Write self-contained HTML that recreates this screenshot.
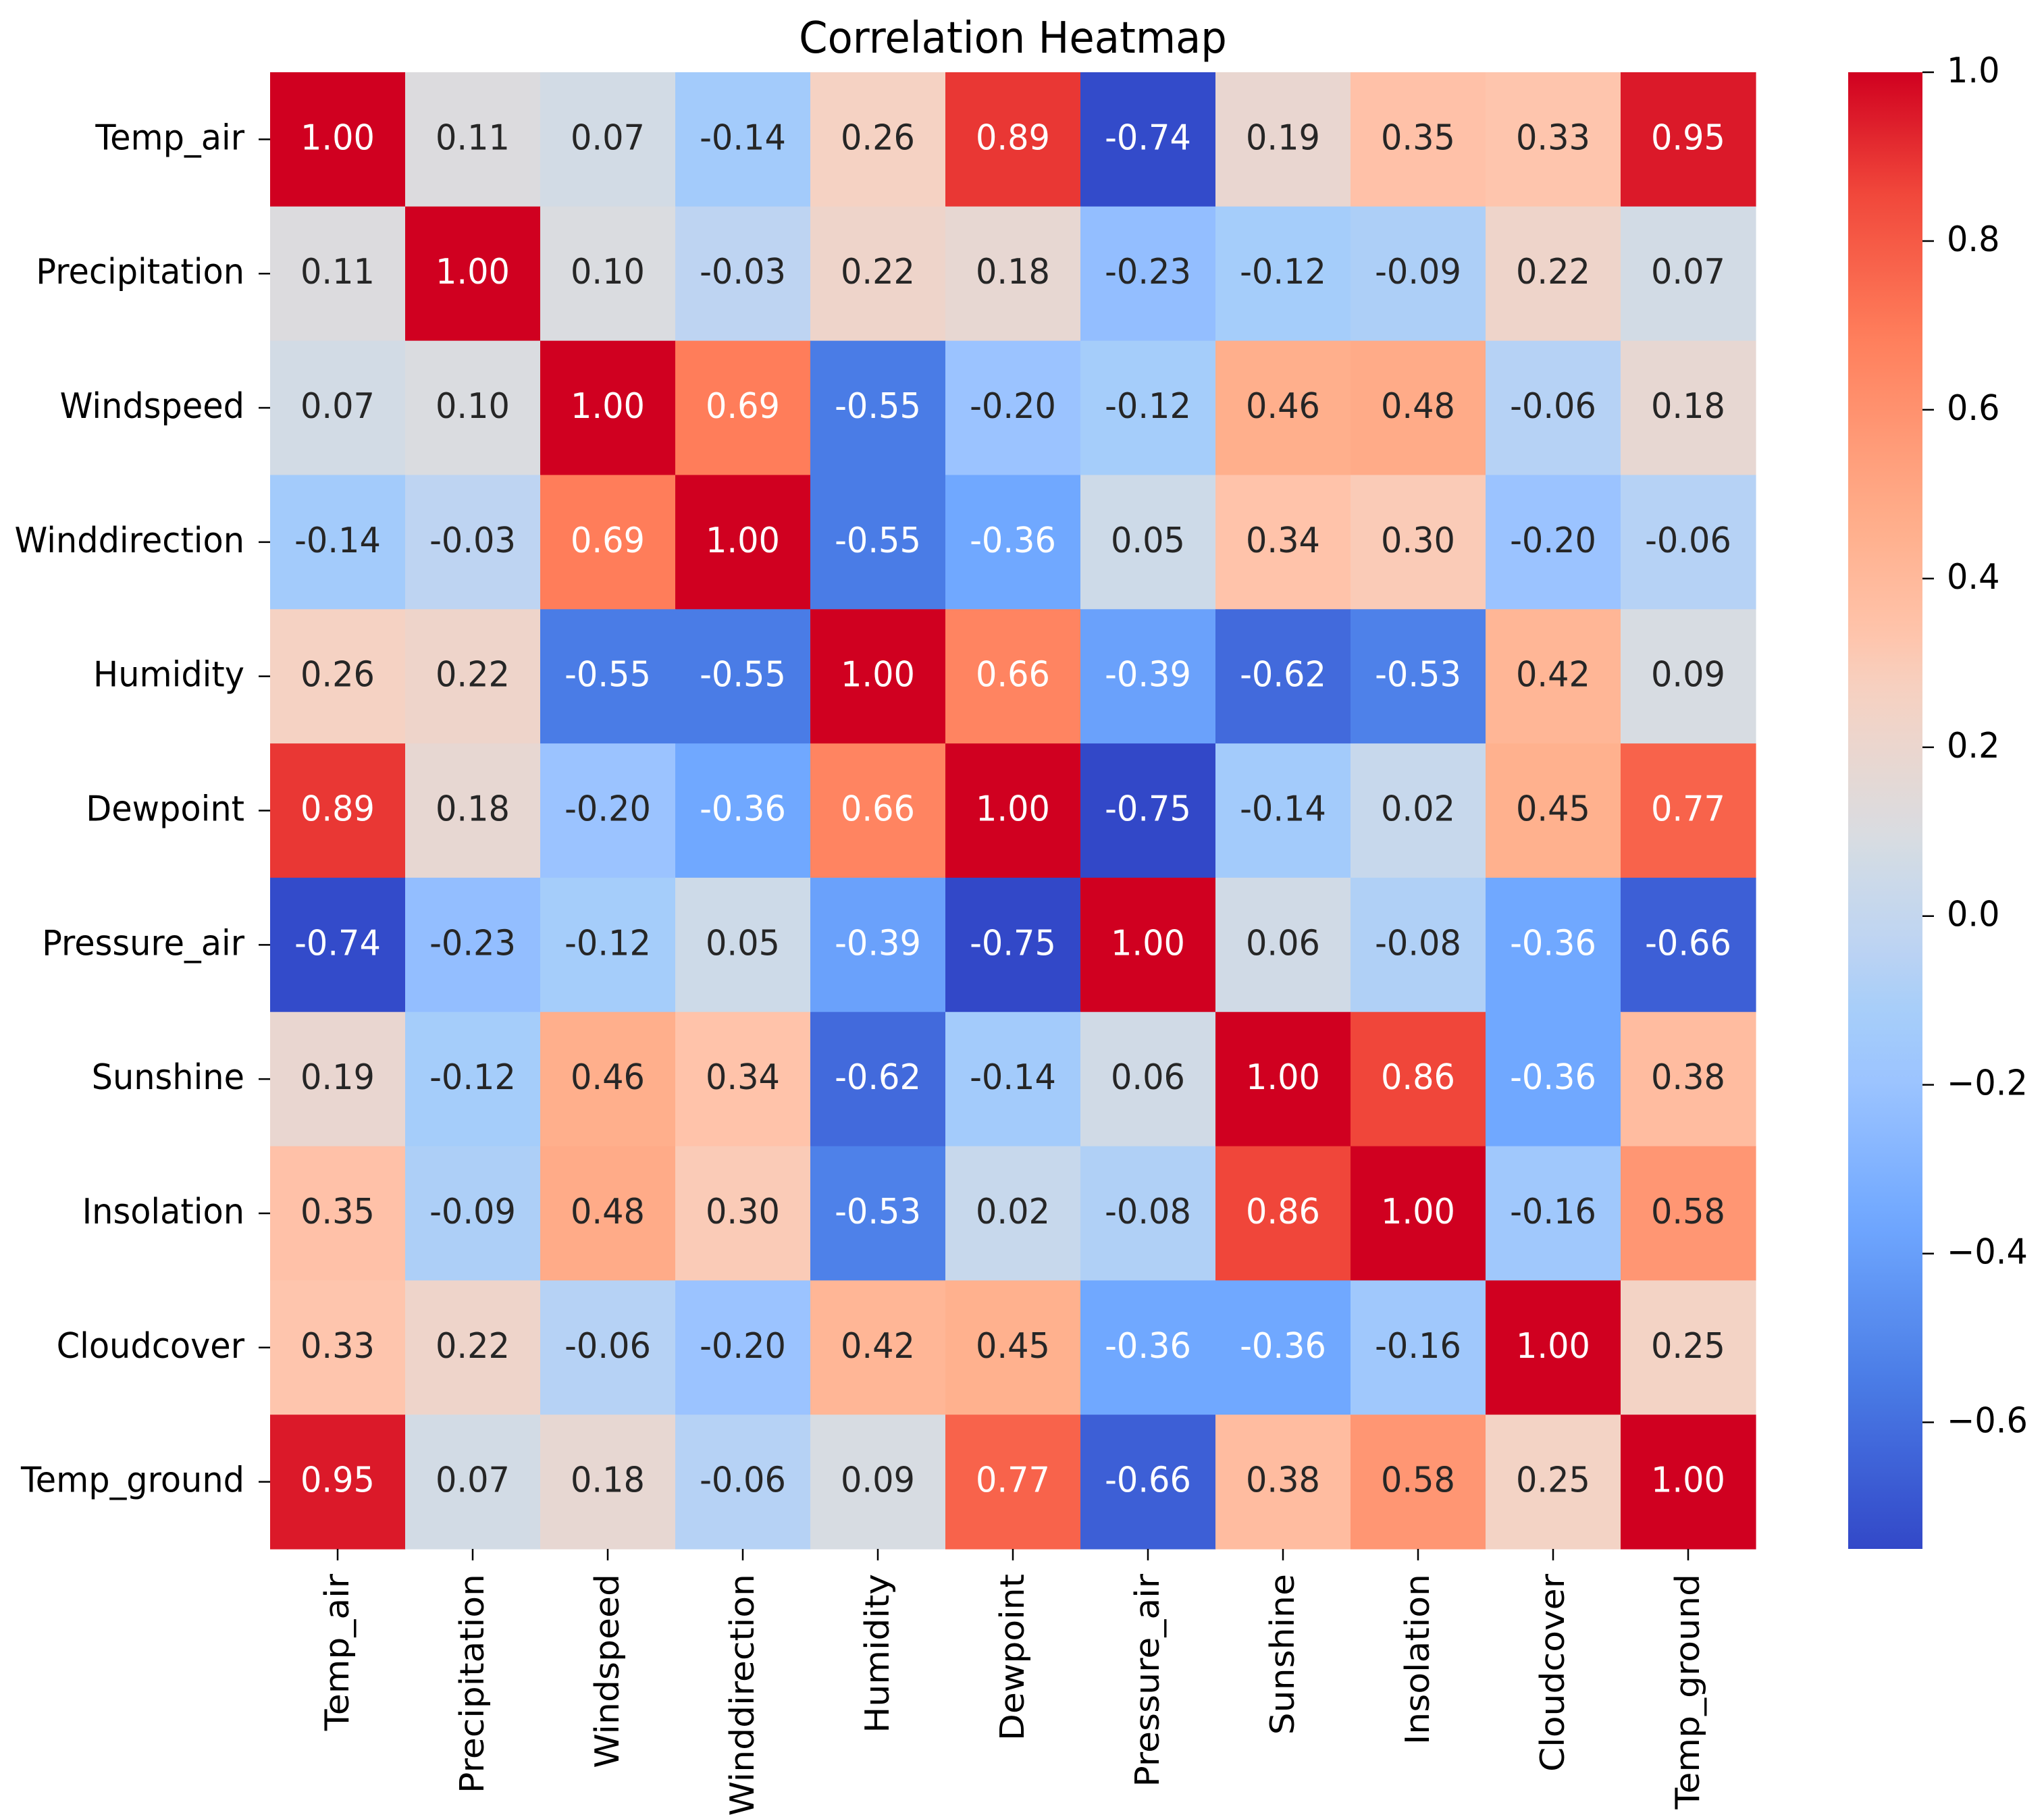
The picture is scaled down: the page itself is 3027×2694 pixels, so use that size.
<!DOCTYPE html>
<html><head><meta charset="utf-8"><style>
html,body{margin:0;padding:0;background:#fff;}
svg{display:block;font-family:"DejaVu Sans","Liberation Sans",sans-serif;}
</style></head><body>
<svg id="chart" width="3027" height="2694" viewBox="0 0 3027 2694" xmlns="http://www.w3.org/2000/svg">
<rect width="3027" height="2694" fill="#fff"/>
<g id="title-g"></g>
<g id="cells"></g>
<g id="yaxis"></g>
<g id="xaxis"></g>
<defs><linearGradient id="cbgrad" x1="0" y1="1" x2="0" y2="0"></linearGradient></defs>
<g id="cbar"></g>
</svg>
<script>
const labels = ["Temp_air","Precipitation","Windspeed","Winddirection","Humidity","Dewpoint","Pressure_air","Sunshine","Insolation","Cloudcover","Temp_ground"];
const row0 = [1.00,0.11,0.07,-0.14,0.26,0.89,-0.74,0.19,0.35,0.33,0.95];
const row1 = [0.11,1.00,0.10,-0.03,0.22,0.18,-0.23,-0.12,-0.09,0.22,0.07];
const row2 = [0.07,0.10,1.00,0.69,-0.55,-0.20,-0.12,0.46,0.48,-0.06,0.18];
const row3 = [-0.14,-0.03,0.69,1.00,-0.55,-0.36,0.05,0.34,0.30,-0.20,-0.06];
const row4 = [0.26,0.22,-0.55,-0.55,1.00,0.66,-0.39,-0.62,-0.53,0.42,0.09];
const row5 = [0.89,0.18,-0.20,-0.36,0.66,1.00,-0.75,-0.14,0.02,0.45,0.77];
const row6 = [-0.74,-0.23,-0.12,0.05,-0.39,-0.75,1.00,0.06,-0.08,-0.36,-0.66];
const row7 = [0.19,-0.12,0.46,0.34,-0.62,-0.14,0.06,1.00,0.86,-0.36,0.38];
const row8 = [0.35,-0.09,0.48,0.30,-0.53,0.02,-0.08,0.86,1.00,-0.16,0.58];
const row9 = [0.33,0.22,-0.06,-0.20,0.42,0.45,-0.36,-0.36,-0.16,1.00,0.25];
const row10 = [0.95,0.07,0.18,-0.06,0.09,0.77,-0.66,0.38,0.58,0.25,1.00];
const cbTicks = [1.0,0.8,0.6,0.4,0.2,0.0,-0.2,-0.4,-0.6];
const cbTickLabels = ["1.0","0.8","0.6","0.4","0.2","0.0","\u22120.2","\u22120.4","\u22120.6"];
const vmin = -0.75, vmax = 1.0;
const matrix = [row0,row1,row2,row3,row4,row5,row6,row7,row8,row9,row10];

const NS="http://www.w3.org/2000/svg";
const L=400,R=2600,T=107,B=2294;
const n=labels.length, cw=(R-L)/n, ch=(B-T)/n;
const SX=0.95, FS=52;
const xS=i=>L+i*cw, yS=i=>T+i*ch;
const cbL=2737,cbR=2847;
const cbY=v=>B-(v-vmin)/(vmax-vmin)*(B-T);

const stops=[[0,50,72,200],[0.114,74,124,230],[0.223,112,168,255],[0.314,155,195,255],[0.36,165,205,250],[0.411,190,212,242],[0.457,205,218,232],[0.486,218,220,224],[0.577,245,210,195],[0.623,255,195,170],[0.691,255,175,140],[0.76,255,150,115],[0.823,255,125,90],[0.92,240,70,58],[1,208,0,32]];
function cmap(v){
  let t=(v-vmin)/(vmax-vmin); t=Math.max(0,Math.min(1,t));
  for(let i=0;i<stops.length-1;i++){
    const a=stops[i],b=stops[i+1];
    if(t<=b[0]){const f=(t-a[0])/(b[0]-a[0]);
      return [a[1]+(b[1]-a[1])*f,a[2]+(b[2]-a[2])*f,a[3]+(b[3]-a[3])*f].map(Math.round);}
  }
  return stops[stops.length-1].slice(1);
}
function lum(c){const l=c.map(x=>{x/=255;return x<=0.03928?x/12.92:Math.pow((x+0.055)/1.055,2.4);});return 0.2126*l[0]+0.7152*l[1]+0.0722*l[2];}
function el(tag,attrs,parent){const e=document.createElementNS(NS,tag);for(const k in attrs)e.setAttribute(k,attrs[k]);parent.appendChild(e);return e;}

const tg=document.getElementById('title-g');
const title=el('text',{transform:`translate(1500,78) scale(${SX},1)`,'text-anchor':'middle','font-size':64,fill:'#000'},tg);
title.textContent='Correlation Heatmap';



const cells=document.getElementById('cells');
matrix.forEach((row,r)=>{row.forEach((v,c)=>{
  const col=cmap(v);
  const rect=el('rect',{x:xS(c),y:yS(r),width:cw+0.6,height:ch+0.6,fill:`rgb(${col})`},cells);
  
  
  const tx=el('text',{transform:`translate(${xS(c)+cw/2},${yS(r)+ch/2+15}) scale(${SX},1)`,'text-anchor':'middle','font-size':FS,fill:lum(col)>0.408?'#262626':'#ffffff'},cells);
  tx.textContent=v.toFixed(2);
  
  
});});

const ya=document.getElementById('yaxis'), xa=document.getElementById('xaxis');
labels.forEach((lab,i)=>{
  const cy=yS(i)+ch/2;
  const tk=el('line',{x1:L-17,x2:L,y1:cy,y2:cy,stroke:'#000','stroke-width':2.5},ya);
  
  
  const t=el('text',{transform:`translate(${L-38},${cy+15}) scale(${SX},1)`,'text-anchor':'end','font-size':FS,fill:'#000'},ya);
  t.textContent=lab;
  
  
  const cx=xS(i)+cw/2;
  const tk2=el('line',{x1:cx,x2:cx,y1:B,y2:B+17,stroke:'#000','stroke-width':2.5},xa);
  
  
  const t2=el('text',{transform:`translate(${cx+16},${B+37}) scale(${SX},1) rotate(-90)`,'text-anchor':'end','font-size':FS,fill:'#000'},xa);
  t2.textContent=lab;
  
  
});

const grad=document.getElementById('cbgrad');
for(let k=0;k<=60;k++){const v=vmin+(vmax-vmin)*k/60;el('stop',{offset:(k/60),'stop-color':`rgb(${cmap(v)})`},grad);}
const cb=document.getElementById('cbar');
const cbr=el('rect',{x:cbL,y:T,width:cbR-cbL,height:B-T,fill:'url(#cbgrad)'},cb);


cbTicks.forEach((v,i)=>{
  const y=cbY(v);
  const tk=el('line',{x1:cbR,x2:cbR+17,y1:y,y2:y,stroke:'#000','stroke-width':2.5},cb);
  
  
  const t=el('text',{transform:`translate(${cbR+36},${y+15}) scale(${SX},1)`,'font-size':FS,fill:'#000'},cb);
  t.textContent=cbTickLabels[i];
  
  
});
</script>
</body></html>
